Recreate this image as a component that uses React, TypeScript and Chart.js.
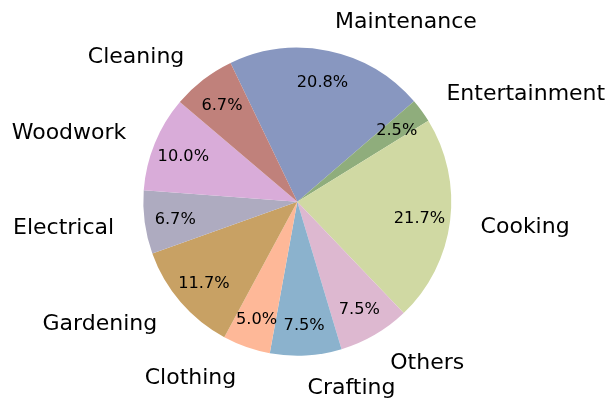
import React, { useEffect, useRef } from "react";
import { Chart, registerables } from "chart.js";

Chart.register(...registerables);

const categories = ["Maintenance", "Entertainment", "Cooking", "Others", "Crafting", "Clothing", "Gardening", "Electrical", "Woodwork", "Cleaning"];
const counts = [25, 3, 26, 9, 9, 6, 14, 8, 12, 8];
const colors = ["#8897c0", "#8fad7c", "#d0d9a3", "#ddb8d0", "#8bb2cd", "#feb898", "#c8a164", "#aeabc0", "#d9acd9", "#c0817b"];

const labelPlugin = {
  id: "pieLabels",
  afterDraw(chart: any) {
    const ctx = chart.ctx;
    const meta = chart.getDatasetMeta(0);
    const total = counts.reduce((a, b) => a + b, 0);
    ctx.save();
    ctx.fillStyle = "#000";
    meta.data.forEach((arc: any, i: number) => {
      const { x, y, startAngle, endAngle, outerRadius } = arc.getProps(["x", "y", "startAngle", "endAngle", "outerRadius"], true);
      const mid = (startAngle + endAngle) / 2;
      const c = Math.cos(mid);
      const s = Math.sin(mid);
      // percent
      ctx.font = "16.2px 'DejaVu Sans'";
      ctx.textAlign = "center";
      ctx.textBaseline = "middle";
      const pct = ((counts[i] / total) * 100).toFixed(1) + "%";
      ctx.fillText(pct, x + c * outerRadius * 0.8, y + s * outerRadius * 0.8 + 1.5);
      // category label
      ctx.font = "22px 'DejaVu Sans'";
      ctx.textAlign = c > 0 ? "left" : "right";
      ctx.fillText(categories[i], x + c * outerRadius * 1.2, y + s * outerRadius * 1.2 + 1.8);
    });
    ctx.restore();
  },
};

export default function App() {
  const ref = useRef<HTMLCanvasElement>(null);
  useEffect(() => {
    if (!ref.current) return;
    const chart = new Chart(ref.current, {
      type: "pie",
      data: {
        labels: categories,
        datasets: [
          {
            data: counts,
            backgroundColor: colors,
            borderWidth: 0,
            hoverOffset: 0,
            offset: 0,
          },
        ],
      },
      options: {
        responsive: false,
        animation: false,
        rotation: -25.7,
        layout: { padding: { top: 47.7, bottom: 50.3, left: 143.3, right: 164.7 } },
        plugins: { legend: { display: false }, tooltip: { enabled: false } },
      },
      plugins: [labelPlugin],
    });
    return () => chart.destroy();
  }, []);
  return (
    <div style={{ position: "fixed", left: 0, top: 0, width: 616, height: 406, background: "#fff" }}>
      <canvas ref={ref} width={616} height={406} />
    </div>
  );
}
